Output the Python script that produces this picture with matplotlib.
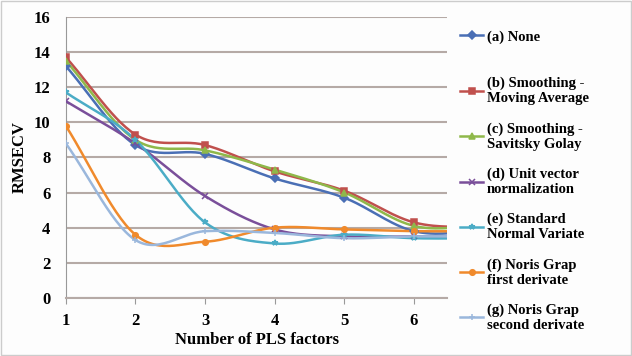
import matplotlib
matplotlib.use('Agg')
import matplotlib.pyplot as plt
import numpy as np
from matplotlib.lines import Line2D

plt.rcParams['font.family'] = ['Liberation Serif', 'DejaVu Serif']
plt.rcParams['font.weight'] = 'bold'

factors = [1, 2, 3, 4, 5, 6, 7]
none = [13.2, 8.7, 8.2, 6.8, 5.7, 3.8, 3.8]
moving_avg = [13.7, 9.3, 8.7, 7.2, 6.1, 4.3, 4.0]
savitsky = [13.5, 9.0, 8.4, 7.3, 6.0, 4.1, 4.1]
unit_vec = [11.2, 8.8, 5.8, 3.9, 3.5, 3.5, 3.5]
snv = [11.7, 9.0, 4.3, 3.1, 3.6, 3.4, 3.4]
first_der = [9.8, 3.6, 3.2, 4.0, 3.9, 3.8, 3.8]
second_der = [8.8, 3.3, 3.8, 3.7, 3.4, 3.5, 3.5]

labels = ['(a) None', '(b) Smoothing -\nMoving Average', '(c) Smoothing -\nSavitsky Golay',
          '(d) Unit vector\nnormalization', '(e) Standard\nNormal Variate',
          '(f) Noris Grap\nfirst derivate', '(g) Noris Grap\nsecond derivate']
series = [none, moving_avg, savitsky, unit_vec, snv, first_der, second_der]
colors = ['#4a6fb5', '#c0504d', '#8fb84a', '#7a4f9a', '#4bacc6', '#f08a2c', '#9ab7dc']
markers = ['D', 's', '^', 'x', '*', 'o', '+']


def smooth(x, y, n=30):
    # catmull-rom style curve through the points, like excel "smoothed line"
    x = np.asarray(x, float)
    y = np.asarray(y, float)
    px = np.concatenate([[2 * x[0] - x[1]], x, [2 * x[-1] - x[-2]]])
    py = np.concatenate([[2 * y[0] - y[1]], y, [2 * y[-1] - y[-2]]])
    xs, ys = [], []
    t = np.linspace(0, 1, n)
    for i in range(1, len(px) - 2):
        p0, p1, p2, p3 = [np.array([px[j], py[j]]) for j in range(i - 1, i + 3)]
        c1 = p1 + (p2 - p0) / 6
        c2 = p2 - (p3 - p1) / 6
        b = ((1 - t) ** 3)[:, None] * p1 + (3 * (1 - t) ** 2 * t)[:, None] * c1 \
            + (3 * (1 - t) * t ** 2)[:, None] * c2 + (t ** 3)[:, None] * p2
        xs.extend(b[:, 0])
        ys.extend(b[:, 1])
    return xs, ys


fig = plt.figure(figsize=(6.32, 3.56), dpi=100)
fig.patch.set_facecolor('#fdfdfd')
ax = fig.add_axes([0.104, 0.163, 0.604, 0.79])
ax.set_facecolor('#fdfdfd')

handles = []
for ys, c, m, lab in zip(series, colors, markers, labels):
    sx, sy = smooth(factors, ys)
    ax.plot(sx, sy, color=c, lw=1.8, zorder=3)
    ax.plot(factors, ys, ls='none', marker=m, color=c, ms=4, mew=1.1, zorder=4)
    handles.append(Line2D([0], [0], color=c, lw=1.8, marker=m, ms=4, mew=1.1))

ax.set_xlim(1, 6.48)
ax.set_ylim(0, 16)
ax.set_yticks(np.arange(0, 17, 2))
ax.set_xticks([1, 2, 3, 4, 5, 6])
ax.yaxis.grid(True, color='#b5aaa6', lw=1.5)
ax.set_axisbelow(True)
for s in ['top', 'right']:
    ax.spines[s].set_visible(False)
ax.spines['left'].set_color('#999999')
ax.spines['bottom'].set_color('#b5aaa6')
ax.spines['bottom'].set_linewidth(1.5)
ax.tick_params(axis='both', labelsize=12, length=4, color='#999999')
ax.tick_params(axis='x', pad=7)
ax.tick_params(axis='y', length=0, pad=11)
ax.set_xlabel('Number of PLS factors', fontsize=12, fontweight='bold', labelpad=2)
ax.set_ylabel('RMSECV', fontsize=12, fontweight='bold', labelpad=4)

leg1 = fig.legend(handles[:1], labels[:1], loc='center left', bbox_to_anchor=(0.728, 1 - 37 / 356),
                  frameon=False, fontsize=10.5, handlelength=1.6, handletextpad=0.25,
                  borderaxespad=0, borderpad=0)
fig.legend(handles[1:], labels[1:], loc='upper left', bbox_to_anchor=(0.728, 1 - 77 / 356),
           frameon=False, fontsize=10.5, handlelength=1.6, handletextpad=0.25,
           labelspacing=1.15, borderaxespad=0, borderpad=0)

fig.add_artist(plt.Rectangle((0.002, 0.003), 0.996, 0.994, transform=fig.transFigure,
                             fill=False, ec='#cccccc', lw=1))
fig.savefig('out.png', dpi=100, facecolor=fig.get_facecolor())
